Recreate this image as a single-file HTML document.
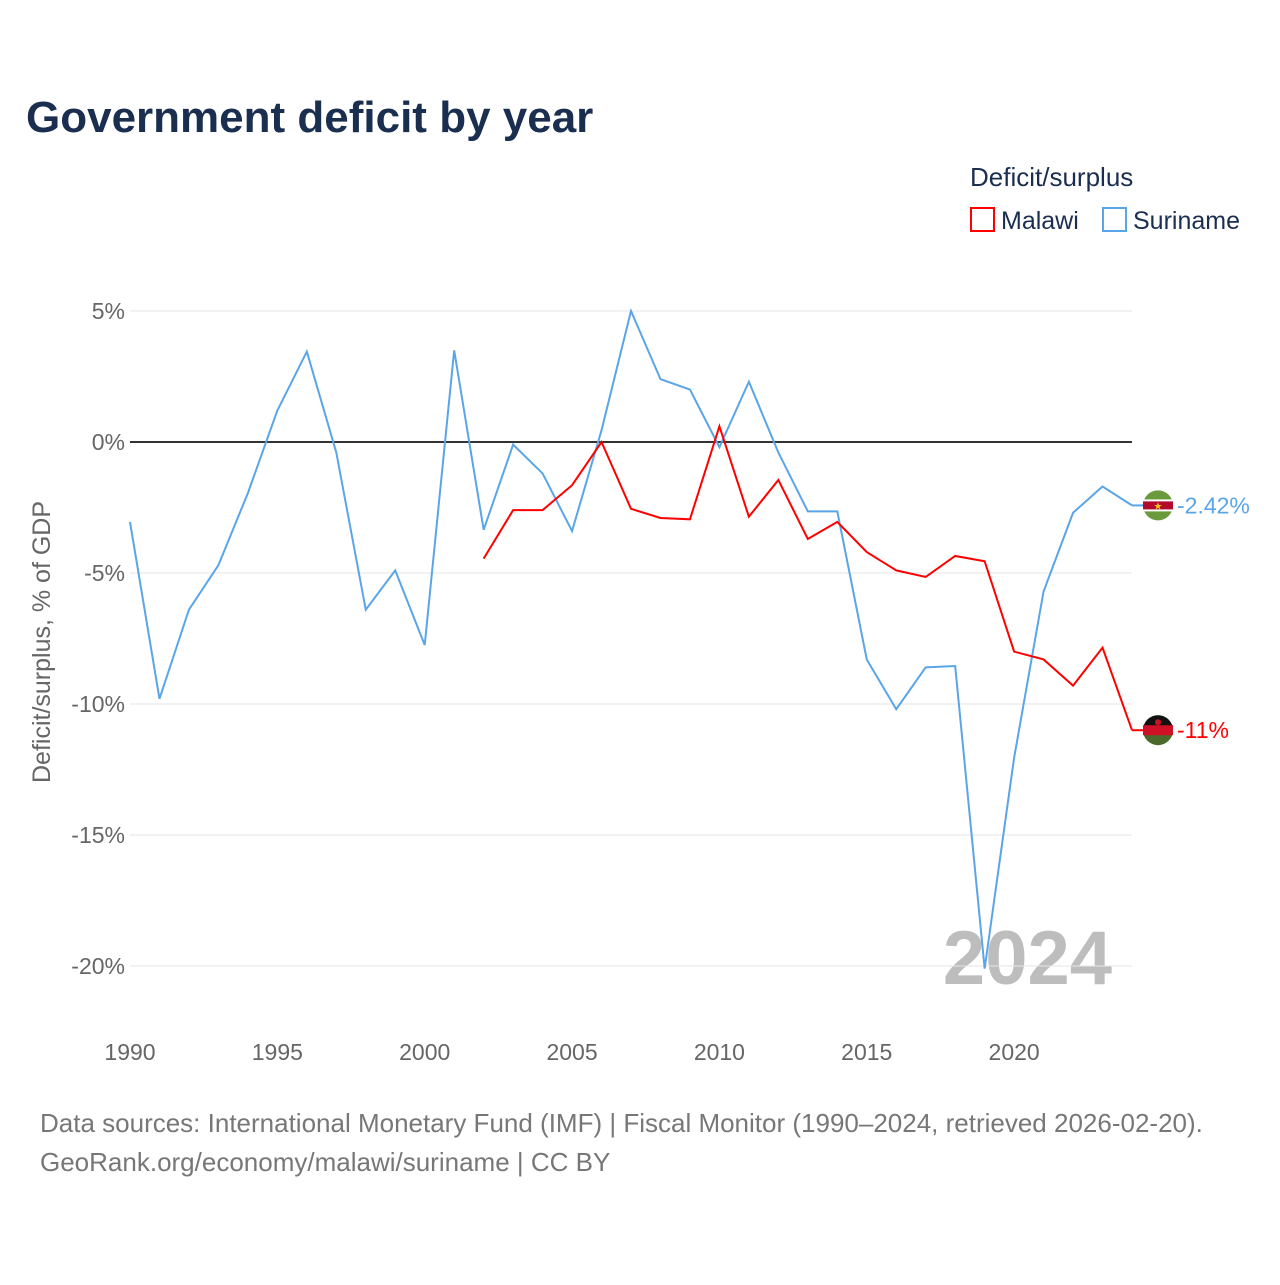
<!DOCTYPE html>
<html><head><meta charset="utf-8">
<style>
body{margin:0;background:#fff;font-family:"Liberation Sans",sans-serif;}
svg text{font-family:"Liberation Sans",sans-serif;}
</style></head>
<body>
<svg id="chart" width="1280" height="1280" viewBox="0 0 1280 1280" xmlns="http://www.w3.org/2000/svg">
<rect width="1280" height="1280" fill="#fff"/>
<text x="26" y="132" font-size="44" font-weight="bold" fill="#1a2e4f">Government deficit by year</text>
<text x="970" y="186" font-size="26" fill="#1a2e4f">Deficit/surplus</text>
<g>
<rect x="971" y="208" width="23" height="23" fill="none" stroke="#ff0000" stroke-width="2"/>
<text x="1001" y="229" font-size="25" fill="#1a2e4f">Malawi</text></g>
<g>
<rect x="1103" y="208" width="23" height="23" fill="none" stroke="#5aa5e8" stroke-width="2"/>
<text x="1133" y="229" font-size="25" fill="#1a2e4f">Suriname</text></g>
<text transform="translate(50,642) rotate(-90)" text-anchor="middle" font-size="25" fill="#666">Deficit/surplus, % of GDP</text>
<text x="1112" y="984" text-anchor="end" font-size="76" font-weight="bold" fill="#bdbdbd">2024</text>
<g id="grid"></g><g id="lines"></g><g id="ends"></g>
<text x="40" y="1132" font-size="26" fill="#777">Data sources: International Monetary Fund (IMF) | Fiscal Monitor (1990–2024, retrieved 2026-02-20).</text>
<text x="40" y="1171" font-size="26" fill="#777">GeoRank.org/economy/malawi/suriname | CC BY</text>
</svg>
<script>
const years=[];for(let y=1990;y<=2024;y++)years.push(y);
const suriname=[-3.05,-9.8,-6.4,-4.7,-1.95,1.2,3.45,-0.4,-6.4,-4.9,-7.75,3.5,-3.35,-0.1,-1.2,-3.4,0.45,5.0,2.4,2.0,-0.2,2.3,-0.4,-2.65,-2.65,-8.3,-10.2,-8.6,-8.55,-20.1,-12.05,-5.7,-2.7,-1.7,-2.42];
const malawiYears=[];for(let y=2002;y<=2024;y++)malawiYears.push(y);
const malawi=[-4.45,-2.6,-2.6,-1.65,0,-2.55,-2.9,-2.95,0.6,-2.85,-1.45,-3.7,-3.05,-4.2,-4.9,-5.15,-4.35,-4.55,-8.0,-8.3,-9.3,-7.85,-11.0];
const yTicks=[5,0,-5,-10,-15,-20];
const xTicks=[1990,1995,2000,2005,2010,2015,2020];
const NS="http://www.w3.org/2000/svg";
const x=v=>130+(v-1990)*(1132-130)/34;
const y=v=>442-v*26.2;
function mk(t,a,p){const e=document.createElementNS(NS,t);for(const k in a)e.setAttribute(k,a[k]);p.appendChild(e);return e;}
const grid=document.getElementById('grid');
yTicks.forEach(t=>{
 const l=mk('line',{x1:130,x2:1132,y1:y(t),y2:y(t),stroke:t===0?'#333':'#e6e6e6','stroke-width':t===0?2:1},grid);
 
 
 const tx=mk('text',{x:125,y:y(t)+8,'text-anchor':'end','font-size':23,fill:'#666'},grid);tx.textContent=t+'%';
 
 
});
xTicks.forEach(t=>{
 const tx=mk('text',{x:x(t),y:1060,'text-anchor':'middle','font-size':23,fill:'#666'},grid);tx.textContent=t;
 
 
});
const lines=document.getElementById('lines');
const ps=mk('polyline',{points:years.map((yr,i)=>x(yr)+','+y(suriname[i])).join(' '),fill:'none',stroke:'#5aa5e8','stroke-width':2},lines);


const pm=mk('polyline',{points:malawiYears.map((yr,i)=>x(yr)+','+y(malawi[i])).join(' '),fill:'none',stroke:'#ff0000','stroke-width':2},lines);


const ends=document.getElementById('ends');
function endLabel(val,col,txt,name,flag){
 const yy=y(val);
 mk('line',{x1:1132,x2:1145,y1:yy,y2:yy,stroke:col,'stroke-width':2},ends);
 const g=mk('g',{},ends);
 
 
 flag(g,1158,yy);
 const t=mk('text',{x:1177,y:yy+8,'font-size':23,fill:col},g);t.textContent=txt;
}
endLabel(suriname[suriname.length-1],'#5aa5e8',suriname[suriname.length-1]+'%','suriname-end-label',(g,cx,cy)=>{
 mk('circle',{cx,cy,r:15,fill:'#6a9a3c'},g);
 mk('rect',{x:cx-15,y:cy-6,width:30,height:12,fill:'#fff'},g);
 mk('rect',{x:cx-15,y:cy-4,width:30,height:8,fill:'#b40a2d'},g);
 const s=mk('text',{x:cx,y:cy+4,'text-anchor':'middle','font-size':10,fill:'#ecc81d'},g);s.textContent='★';
});
endLabel(malawi[malawi.length-1],'#ff0000',Math.round(malawi[malawi.length-1])+'%','malawi-end-label',(g,cx,cy)=>{
 mk('circle',{cx,cy,r:15,fill:'#4a6a2c'},g);
 mk('path',{d:`M${cx-15},${cy} A15,15 0 0 1 ${cx+15},${cy} Z`,fill:'#111'},g);
 mk('rect',{x:cx-15,y:cy-5,width:30,height:10,fill:'#ce1126'},g);
 mk('circle',{cx,cy:cy-8,r:3,fill:'#ce1126'},g);
});
</script>
</body></html>
